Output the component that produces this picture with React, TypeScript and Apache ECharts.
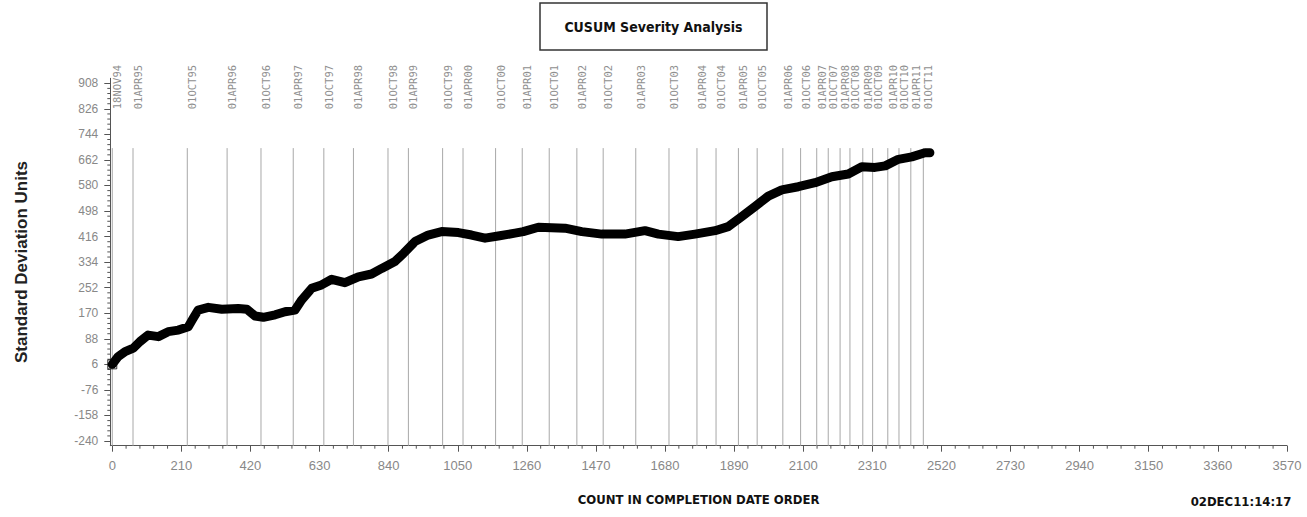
import React, { useEffect, useRef } from "react";
import * as echarts from "echarts";

// CUSUM curve (count in completion order, standard deviation units)
const counts = [0, 18, 39, 64, 84, 109, 140, 170, 201, 231, 246, 261, 292, 333, 383, 409, 434, 459, 495, 525, 555, 576, 606, 636, 667, 707, 748, 788, 819, 859, 885, 920, 960, 1001, 1052, 1092, 1133, 1173, 1224, 1249, 1295, 1376, 1427, 1488, 1558, 1619, 1660, 1720, 1771, 1832, 1872, 1913, 1953, 1994, 2035, 2085, 2136, 2187, 2237, 2278, 2318, 2349, 2389, 2430, 2470, 2485];
const cusum = [6, 31, 47, 58, 79, 100, 95, 111, 116, 127, 154, 180, 189, 183, 185, 183, 161, 157, 165, 175, 180, 213, 250, 261, 279, 268, 287, 296, 314, 336, 362, 400, 421, 432, 429, 421, 411, 418, 427, 432, 446, 443, 432, 424, 424, 435, 424, 416, 424, 435, 448, 480, 512, 546, 566, 576, 589, 608, 617, 640, 638, 643, 664, 672, 685, 685];

// Date reference lines
const refLabels = ["18NOV94", "01APR95", "01OCT95", "01APR96", "01OCT96", "01APR97", "01OCT97", "01APR98", "01OCT98", "01APR99", "01OCT99", "01APR00", "01OCT00", "01APR01", "01OCT01", "01APR02", "01OCT02", "01APR03", "01OCT03", "01APR04", "01OCT04", "01APR05", "01OCT05", "01APR06", "01OCT06", "01APR07", "01OCT07", "01APR08", "01OCT08", "01APR09", "01OCT09", "01APR10", "01OCT10", "01APR11", "01OCT11"];
const refCounts = [0, 63, 228, 349, 452, 550, 643, 733, 838, 900, 1004, 1066, 1165, 1246, 1328, 1412, 1492, 1591, 1692, 1777, 1835, 1903, 1960, 2038, 2092, 2141, 2176, 2212, 2242, 2281, 2311, 2357, 2391, 2427, 2465];

// Tick labels
const xTicks = [0, 210, 420, 630, 840, 1050, 1260, 1470, 1680, 1890, 2100, 2310, 2520, 2730, 2940, 3150, 3360, 3570];
const yTicks = [-240, -158, -76, 6, 88, 170, 252, 334, 416, 498, 580, 662, 744, 826, 908];

const X_MIN = -6;
const X_MAX = 3570;
const Y_MIN = -255;
const Y_MAX = 924;
const REF_TOP = 700;

const minors = (ticks: number[], n: number) => {
  const out: number[] = [];
  for (let i = 0; i < ticks.length - 1; i++) {
    const step = (ticks[i + 1] - ticks[i]) / n;
    for (let k = 1; k < n; k++) out.push(ticks[i] + step * k);
  }
  return out;
};

const LABEL_FONT = "Liberation Sans, Arial, sans-serif";
const NARROW_FONT = "'Liberation Sans Narrow', 'DejaVu Sans Condensed', Arial, sans-serif";
const AXIS_COLOR = "#555";

export default function App() {
  const ref = useRef<HTMLDivElement>(null);
  useEffect(() => {
    document.body.style.margin = "0";
    const chart = echarts.init(ref.current!, null, { renderer: "svg" });
    const xMinor = minors(xTicks, 5);
    const yMinor = minors(yTicks, 5);
    const option: any = {
      animation: false,
      backgroundColor: "#fff",
      grid: { left: 110.3, right: 20.1, top: 78.3, bottom: 71.3 },
      xAxis: {
        type: "value",
        min: X_MIN,
        max: X_MAX,
        name: "COUNT IN COMPLETION DATE ORDER",
        nameLocation: "middle",
        nameGap: 47,
        nameTextStyle: { color: "#111", fontWeight: "bold", fontSize: 13, fontFamily: NARROW_FONT },
        axisLine: { show: true, onZero: false, lineStyle: { color: AXIS_COLOR, width: 1 } },
        axisTick: { show: true, customValues: xTicks, length: 6, lineStyle: { color: AXIS_COLOR } },
        axisLabel: {
          customValues: xTicks,
          color: "#888",
          fontSize: 13,
          margin: 13,
          fontFamily: LABEL_FONT,
          formatter: (v: number) => String(v),
        },
        splitLine: { show: false },
      },
      yAxis: {
        type: "value",
        min: Y_MIN,
        max: Y_MAX,
        name: "Standard Deviation Units",
        nameLocation: "middle",
        nameGap: 80,
        nameTextStyle: { color: "#222", fontWeight: "bold", fontSize: 17, fontFamily: LABEL_FONT },
        axisLine: { show: true, onZero: false, lineStyle: { color: AXIS_COLOR, width: 1 } },
        axisTick: { show: true, customValues: yTicks, length: 6, lineStyle: { color: AXIS_COLOR } },
        axisLabel: {
          customValues: yTicks,
          color: "#888",
          fontSize: 12,
          margin: 12,
          fontFamily: LABEL_FONT,
          formatter: (v: number) => String(v),
        },
        splitLine: { show: false },
      },
      graphic: [
        {
          type: "rect",
          shape: { x: 540, y: 3, width: 227, height: 47 },
          style: { fill: "#fff", stroke: "#333", lineWidth: 1.5 },
        },
        {
          type: "text",
          x: 653.5,
          y: 27,
          style: {
            text: "CUSUM Severity Analysis",
            align: "center",
            verticalAlign: "middle",
            fill: "#111",
            font: "bold 14px " + NARROW_FONT,
          },
        },
        {
          type: "text",
          x: 1241,
          y: 501,
          style: {
            text: "02DEC11:14:17",
            align: "center",
            verticalAlign: "middle",
            fill: "#111",
            font: "bold 13px " + NARROW_FONT,
          },
        },
      ],
      series: [
        {
          // minor ticks on the x axis
          type: "custom",
          clip: false,
          silent: true,
          data: xMinor.map((v) => [v]),
          encode: { x: 0 },
          renderItem: (_p: any, api: any) => {
            const p = api.coord([api.value(0), Y_MIN]);
            return {
              type: "line",
              shape: { x1: p[0], y1: p[1], x2: p[0], y2: p[1] + 3 },
              style: { stroke: AXIS_COLOR, lineWidth: 1 },
            };
          },
        },
        {
          // minor ticks on the y axis
          type: "custom",
          clip: false,
          silent: true,
          data: yMinor.map((v) => [X_MIN, v]),
          encode: { x: 0, y: 1 },
          renderItem: (_p: any, api: any) => {
            const p = api.coord([X_MIN, api.value(1)]);
            return {
              type: "line",
              shape: { x1: p[0] - 3, y1: p[1], x2: p[0], y2: p[1] },
              style: { stroke: AXIS_COLOR, lineWidth: 1 },
            };
          },
        },
        {
          // date reference lines with labels
          type: "custom",
          clip: false,
          silent: true,
          data: refCounts.map((c) => [c]),
          encode: { x: 0 },
          renderItem: (params: any, api: any) => {
            const c = api.value(0);
            const p0 = api.coord([c, Y_MIN]);
            const p1 = api.coord([c, REF_TOP]);
            return {
              type: "group",
              children: [
                {
                  type: "line",
                  shape: { x1: p0[0], y1: p0[1], x2: p1[0], y2: p1[1] },
                  style: { stroke: "#a8a8a8", lineWidth: 1 },
                },
                {
                  type: "text",
                  x: p1[0] + 5,
                  y: p1[1] - 61,
                  rotation: Math.PI / 2,
                  style: {
                    text: refLabels[params.dataIndex],
                    align: "center",
                    verticalAlign: "middle",
                    fill: "#8f8f8f",
                    font: "10.5px 'DejaVu Sans Mono', monospace",
                  },
                },
              ],
            };
          },
        },
        {
          type: "line",
          data: counts.map((c, i) => [c, cusum[i]]),
          showSymbol: false,
          symbol: "none",
          lineStyle: { color: "#000", width: 9, cap: "round", join: "round" },
          z: 3,
        },
        {
          type: "scatter",
          data: [[counts[0], cusum[0]]],
          symbol: "rect",
          symbolSize: 9,
          itemStyle: { color: "#fff", borderColor: "#000", borderWidth: 1 },
          z: 2,
        },
      ],
    };
    chart.setOption(option);
    return () => chart.dispose();
  }, []);
  return <div ref={ref} style={{ width: 1307, height: 517 }} />;
}
